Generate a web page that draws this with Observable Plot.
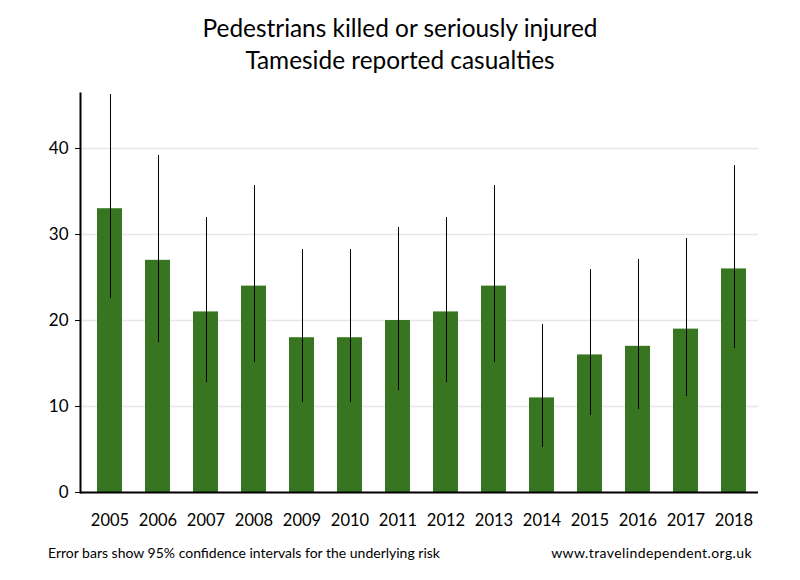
<!DOCTYPE html>
<html>
<head>
<meta charset="utf-8">
<script src="https://cdn.jsdelivr.net/npm/d3@7"></script>
<script src="https://cdn.jsdelivr.net/npm/@observablehq/plot@0.6"></script>
<style>
  body { margin: 0; background: #fff; font-family: Lato, "Open Sans", sans-serif; }
  #wrap { position: relative; width: 800px; height: 580px; }
  #title { position: absolute; top: 12px; left: 0; width: 800px; text-align: center; font-size: 24.4px; line-height: 32px; color: #000; }
  #chart { position: absolute; top: 80px; left: 0; }
  .foot { position: absolute; top: 544px; font-size: 14px; color: #000; }
</style>
</head>
<body>
<div id="wrap">
  <div id="title">Pedestrians killed or seriously injured<br>Tameside reported casualties</div>
  <div id="chart"></div>
  <div class="foot" style="left:48px">Error bars show 95% confidence intervals for the underlying risk</div>
  <div class="foot" style="right:48px;letter-spacing:0.4px">www.travelindependent.org.uk</div>
</div>
<script>
const years = ["2005","2006","2007","2008","2009","2010","2011","2012","2013","2014","2015","2016","2017","2018"];
const casualties = [33, 27, 21, 24, 18, 18, 20, 21, 24, 11, 16, 17, 19, 26];
const ciLow  = [22.6, 17.5, 12.8, 15.1, 10.45, 10.45, 11.9, 12.8, 15.1, 5.2, 8.9, 9.6, 11.15, 16.7];
const ciHigh = [46.3, 39.2, 32.0, 35.7, 28.3, 28.3, 30.8, 32.0, 35.7, 19.5, 25.9, 27.1, 29.5, 38.0];
const yTicks = [0, 10, 20, 30, 40];

const data = years.map((y, i) => ({year: y, value: casualties[i], lo: ciLow[i], hi: ciHigh[i]}));

const chart = Plot.plot({
  width: 800,
  height: 450,
  marginTop: 13,
  marginBottom: 38,
  marginLeft: 80,
  marginRight: 42,
  style: {fontFamily: "Lato, 'Open Sans', sans-serif", fontSize: "16px", color: "#000"},
  x: {domain: years, paddingInner: 0.479, paddingOuter: 0.302, align: 0.586, label: null},
  y: {domain: [0, 46.4], label: null},
  marks: [
    Plot.gridY(yTicks, {stroke: "#e6e6e6", strokeOpacity: 1, strokeWidth: 1.5}),
    Plot.barY(data, {x: "year", y: "value", fill: "#377520"}),
    Plot.ruleX(data, {x: "year", y1: "lo", y2: "hi", stroke: "#000", strokeWidth: 1, shapeRendering: "crispEdges"}),
    Plot.axisY(yTicks, {tickSize: 5, tickPadding: 7, fontSize: 17, label: null}),
    Plot.axisX({tickSize: 0, tickPadding: 22, fontSize: 16.5, label: null}),
    Plot.ruleY([0], {stroke: "#000", strokeWidth: 2}),
    Plot.frame({anchor: "left", stroke: "#000", strokeWidth: 2})
  ]
});
document.getElementById("chart").appendChild(chart);
</script>
</body>
</html>
